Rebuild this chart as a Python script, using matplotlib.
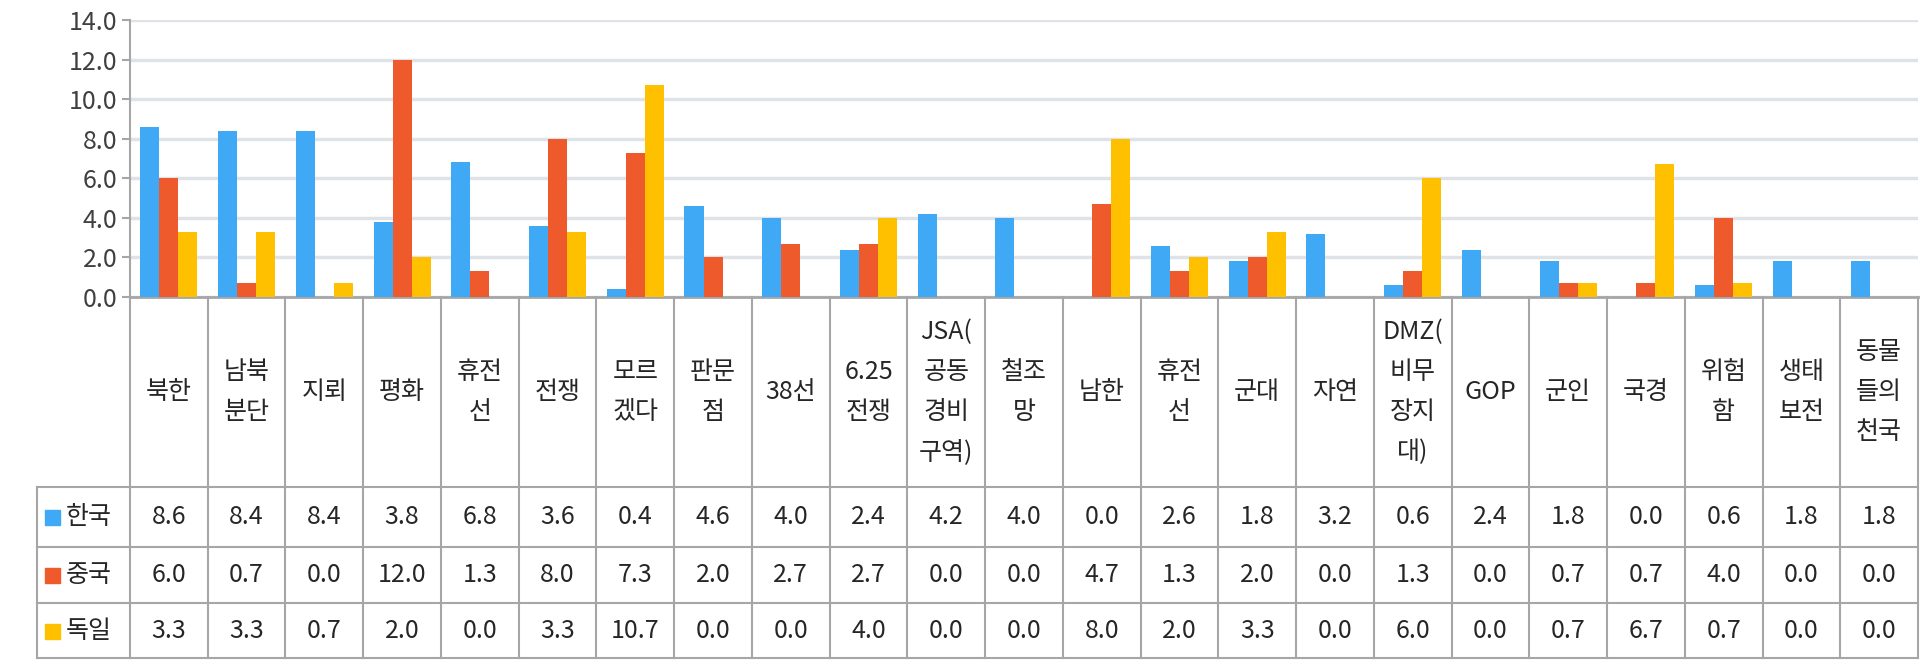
import matplotlib
matplotlib.use("Agg")
import numpy as np
from matplotlib import pyplot as plt
from matplotlib.transforms import blended_transform_factory

plt.rcParams['font.family'] = ['Noto Sans CJK KR', 'DejaVu Sans']

categories = ['북한', '남북\n분단', '지뢰', '평화', '휴전\n선', '전쟁', '모르\n겠다', '판문\n점',
              '38선', '6.25\n전쟁', 'JSA(\n공동\n경비\n구역)', '철조\n망', '남한', '휴전\n선',
              '군대', '자연', 'DMZ(\n비무\n장지\n대)', 'GOP', '군인', '국경', '위험\n함',
              '생태\n보전', '동물\n들의\n천국']
series_names = ['한국', '중국', '독일']
korea = [8.6, 8.4, 8.4, 3.8, 6.8, 3.6, 0.4, 4.6, 4.0, 2.4, 4.2, 4.0, 0.0, 2.6, 1.8, 3.2,
         0.6, 2.4, 1.8, 0.0, 0.6, 1.8, 1.8]
china = [6.0, 0.7, 0.0, 12.0, 1.3, 8.0, 7.3, 2.0, 2.7, 2.7, 0.0, 0.0, 4.7, 1.3, 2.0, 0.0,
         1.3, 0.0, 0.7, 0.7, 4.0, 0.0, 0.0]
germany = [3.3, 3.3, 0.7, 2.0, 0.0, 3.3, 10.7, 0.0, 0.0, 4.0, 0.0, 0.0, 8.0, 2.0, 3.3, 0.0,
           6.0, 0.0, 0.7, 6.7, 0.7, 0.0, 0.0]
y_ticks = [0, 2, 4, 6, 8, 10, 12, 14]

colors = ['#3FA9F5', '#EE5A2C', '#FFC000']
grid_color = '#DFE2E7'
line_color = '#A6A6A6'
text_color = '#262626'

W, H = 1920, 660
fig = plt.figure(figsize=(W / 100, H / 100), dpi=100)


def fy(px):
    # pixel row from the top -> figure fraction
    return 1 - px / H


ax = fig.add_axes([130 / W, fy(297), (1918 - 130) / W, (297 - 20) / H])

series = [korea, china, germany]
n = len(categories)
x = np.arange(n)
bw = 0.245
for k, vals in enumerate(series):
    ax.bar(x + (k - 1) * bw, vals, width=bw, color=colors[k], zorder=3)

ax.set_xlim(-0.5, n - 0.5)
ax.set_ylim(0, 14)
ax.set_yticks(y_ticks)
ax.set_yticklabels([f'{v:.1f}' for v in y_ticks])
ax.yaxis.grid(True, color=grid_color, linewidth=2.5, zorder=0)
ax.set_xticks([])
for side in ['top', 'right']:
    ax.spines[side].set_visible(False)
ax.spines['left'].set_color(line_color)
ax.spines['left'].set_linewidth(1.5)
ax.spines['bottom'].set_color(line_color)
ax.spines['bottom'].set_linewidth(2)
ax.tick_params(axis='y', length=6, width=1.5, color=line_color, labelsize=18,
               labelcolor='#404040', pad=3)

# data table below the chart
tr = blended_transform_factory(ax.transData, fig.transFigure)
header_top, header_bot = 297, 487
row_edges = [487, 547, 603, 658]

for i in range(n + 1):
    ax.plot([i - 0.5, i - 0.5], [fy(header_top), fy(row_edges[-1])], transform=tr,
            color=line_color, linewidth=1.5, clip_on=False)
for r in row_edges:
    fig.add_artist(plt.Line2D([37 / W, 1918 / W], [fy(r), fy(r)], color=line_color,
                              linewidth=1.5))
fig.add_artist(plt.Line2D([37 / W, 37 / W], [fy(row_edges[0]), fy(row_edges[-1])],
                          color=line_color, linewidth=1.5))

for i, lab in enumerate(categories):
    ax.text(i, fy((header_top + header_bot) / 2), lab, transform=tr, ha='center',
            va='center', fontsize=18, color=text_color, linespacing=1.7)

for k, vals in enumerate(series):
    yc = fy((row_edges[k] + row_edges[k + 1]) / 2)
    fig.add_artist(plt.Rectangle((45 / W, yc - 8 / H), 15 / W, 15 / H,
                                 color=colors[k]))
    fig.text(66 / W, yc, series_names[k], ha='left', va='center', fontsize=18,
             color=text_color)
    for i, v in enumerate(vals):
        ax.text(i, yc, f'{v:.1f}', transform=tr, ha='center', va='center',
                fontsize=18, color=text_color)

fig.savefig('out.png', dpi=100)
